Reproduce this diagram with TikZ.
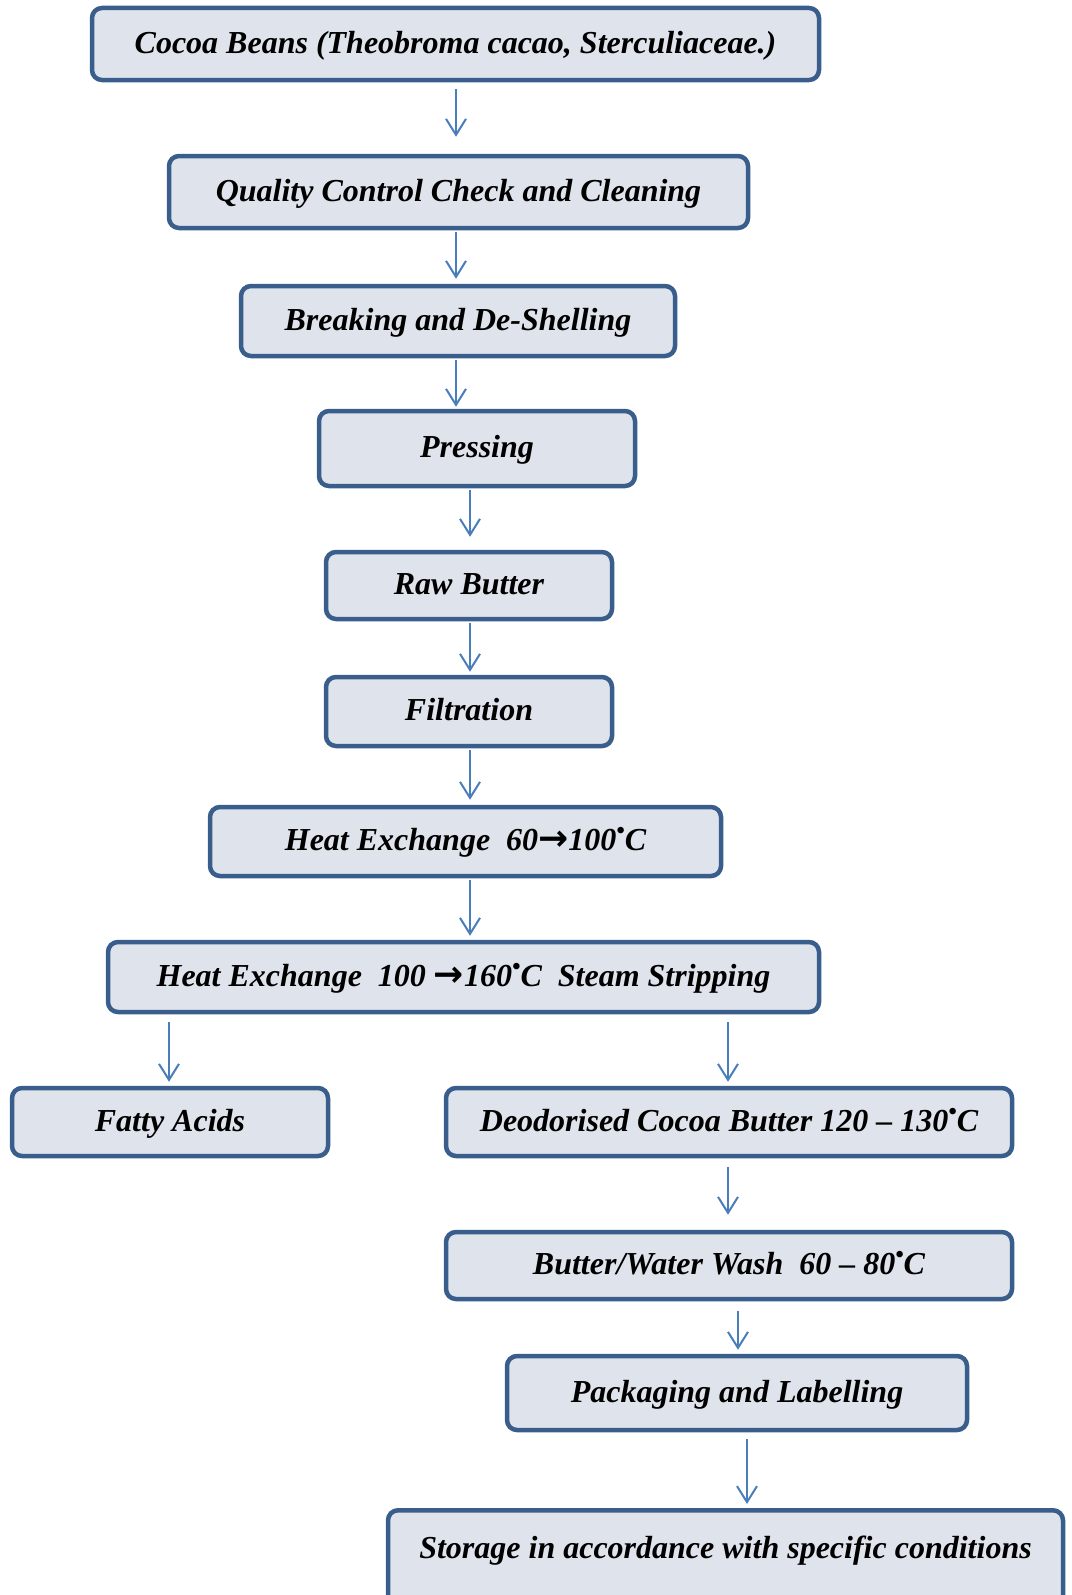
\documentclass[tikz,border=0pt]{standalone}
\usepackage{fontspec}
\setmainfont{Liberation Serif}
\newfontfamily\arrowfont{DejaVu Sans}
\usetikzlibrary{arrows.meta}

\definecolor{boxfill}{HTML}{DFE3EB}
\definecolor{boxline}{HTML}{3A5E8C}
\definecolor{flowline}{HTML}{4A7EBB}

\newcommand*\DegC{\raisebox{.36em}{\fontsize{24}{24}\selectfont\textbullet}C}
\newcommand*\To{{\arrowfont\bfseries\fontsize{36}{36}\selectfont →}}

\begin{document}
\begin{tikzpicture}[
  x=1pt,
  y=-1pt,
  stage/.style={
    draw=boxline,
    fill=boxfill,
    line width=4.5pt,
    rounded corners=10pt,
    inner sep=0pt,
    text height=22pt,
    text depth=4pt,
    font=\bfseries\itshape\fontsize{32}{38}\selectfont,
  },
  flow/.style={
    draw=flowline,
    line width=2pt,
    -{Straight Barb[length=16pt,width=20pt,line width=2pt]},
  },
]
  \useasboundingbox (0,0) rectangle (1071,1595);
  \clip (0,0) rectangle (1071,1595);
  \foreach \name/\cx/\cy/\w/\h/\code in {
    beans/455.5/44/727/72/{Cocoa Beans (Theobroma cacao, Sterculiaceae.)},
    qcheck/458.5/192/579/72/{Quality Control Check and Cleaning},
    shell/458/321/434/70/{Breaking and De-Shelling},
    press/477/448.5/316/75/{Pressing},
    raw/469/585.5/286/67/{Raw Butter},
    filter/469/711.5/286/69/{Filtration},
    heatA/465.5/841.5/511/69/{Heat Exchange~~60\To100\DegC},
    heatB/463.5/977/711/70/{Heat Exchange~~100 \To160\DegC~~Steam Stripping},
    fatty/170/1122/316/68/{Fatty Acids},
    deodor/729/1122/566/68/{Deodorised Cocoa Butter 120 -- 130\DegC},
    wash/729/1265.5/566/67/{Butter/Water Wash~~60 -- 80\DegC},
    pack/737/1393/460/74/{Packaging and Labelling}%
  } {
    \node[stage, minimum width=\w, minimum height=\h] (\name) at (\cx,\cy) {\code};
  }
  \node[stage, anchor=north, minimum width=675, inner ysep=26pt, text depth=110pt]
    (store) at (725.5,1508) {Storage in accordance with specific conditions};
  \foreach \from/\to/\x/\s/\e in {
    beans/qcheck/456/7/17,
    qcheck/shell/456/2/5,
    shell/press/456/2/2,
    press/raw/470/2/13,
    raw/filter/470/2/3,
    filter/heatA/470/2/5,
    heatA/heatB/470/2/4,
    heatB/fatty/169/8/4,
    heatB/deodor/728/8/4,
    deodor/wash/728/9/15,
    wash/pack/738/10/4,
    pack/store/747/7/4%
  } {
    \draw[flow, shorten <=\s pt, shorten >=\e pt]
      (\from.south -| \x,0) -- (\to.north -| \x,0);
  }
\end{tikzpicture}
\end{document}
